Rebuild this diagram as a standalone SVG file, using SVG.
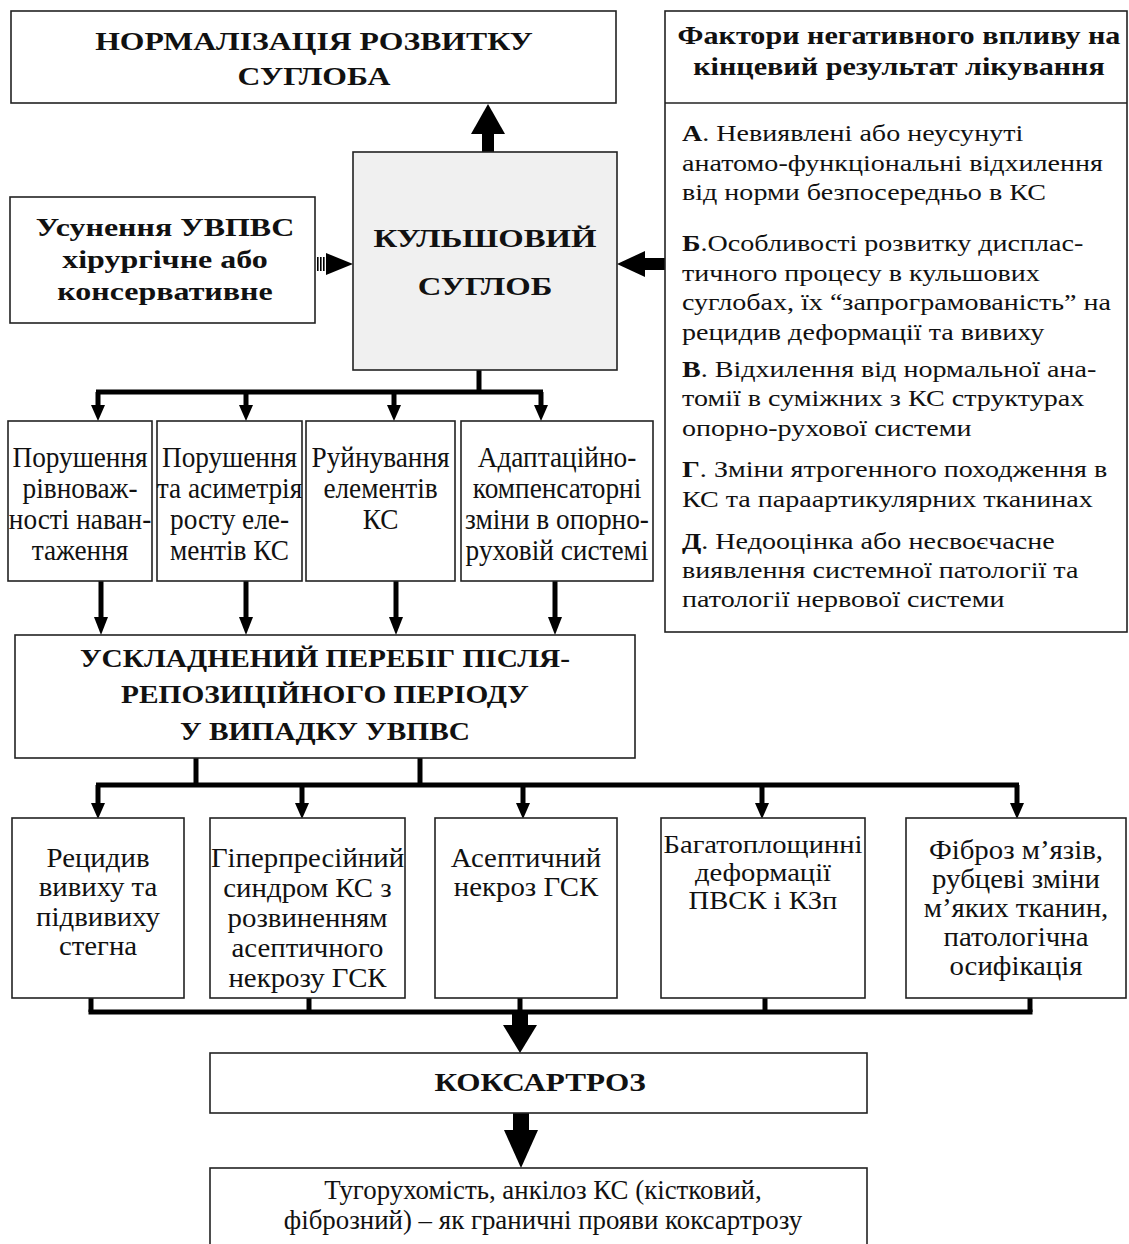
<svg xmlns="http://www.w3.org/2000/svg" width="1129" height="1244" viewBox="0 0 1129 1244">
<style>
.box{fill:#fff;stroke:#222;stroke-width:1.6}
.gray{fill:#f0f0f0}
.b{font-family:"Liberation Serif","Times New Roman",serif;font-weight:bold;font-size:26px;fill:#111}
.r{font-family:"Liberation Serif","Times New Roman",serif;font-size:24px;fill:#111}
.mid{font-size:30px}
.bot{font-size:28px}
.bot26{font-size:26px}
.fin{font-size:28px}
.c{text-anchor:middle}
.ln{stroke:#000;stroke-width:5;fill:none}
.ah{fill:#000}
.bl{font-weight:bold}
</style>
<rect width="1129" height="1244" fill="#fff"/>
<g id="connectors">
  <rect class="ah" x="482" y="131" width="12" height="22"/>
  <polygon class="ah" points="471,134 505,134 488,104"/>
  <rect class="ah" x="317" y="257" width="1.6" height="14"/>
  <rect class="ah" x="320" y="257" width="1.6" height="14"/>
  <rect class="ah" x="323" y="257" width="1.6" height="14"/>
  <polygon class="ah" points="326,253 353,264 326,275"/>
  <rect class="ah" x="643" y="258" width="22" height="12"/>
  <polygon class="ah" points="617,264 645,251 645,277"/>
  <line class="ln" x1="479" y1="370" x2="479" y2="392"/>
  <line class="ln" x1="96" y1="392" x2="543" y2="392"/>
  <line class="ln" x1="98" y1="392" x2="98" y2="408"/>
  <line class="ln" x1="246" y1="392" x2="246" y2="408"/>
  <line class="ln" x1="394" y1="392" x2="394" y2="408"/>
  <line class="ln" x1="541" y1="392" x2="541" y2="408"/>
  <polygon class="ah" points="91,405 105,405 98,421"/>
  <polygon class="ah" points="239,405 253,405 246,421"/>
  <polygon class="ah" points="387,405 401,405 394,421"/>
  <polygon class="ah" points="534,405 548,405 541,421"/>
  <line class="ln" x1="101" y1="581" x2="101" y2="620"/>
  <line class="ln" x1="246" y1="581" x2="246" y2="620"/>
  <line class="ln" x1="396" y1="581" x2="396" y2="620"/>
  <line class="ln" x1="555" y1="581" x2="555" y2="620"/>
  <polygon class="ah" points="94,617 108,617 101,635"/>
  <polygon class="ah" points="239,617 253,617 246,635"/>
  <polygon class="ah" points="389,617 403,617 396,635"/>
  <polygon class="ah" points="548,617 562,617 555,635"/>
  <line class="ln" x1="196" y1="758" x2="196" y2="785"/>
  <line class="ln" x1="420" y1="758" x2="420" y2="785"/>
  <line class="ln" x1="96" y1="785" x2="1019" y2="785"/>
  <line class="ln" x1="98" y1="785" x2="98" y2="806"/>
  <line class="ln" x1="302" y1="785" x2="302" y2="806"/>
  <line class="ln" x1="523" y1="785" x2="523" y2="806"/>
  <line class="ln" x1="762" y1="785" x2="762" y2="806"/>
  <line class="ln" x1="1017" y1="785" x2="1017" y2="806"/>
  <polygon class="ah" points="91,803 105,803 98,819"/>
  <polygon class="ah" points="295,803 309,803 302,819"/>
  <polygon class="ah" points="516,803 530,803 523,819"/>
  <polygon class="ah" points="755,803 769,803 762,819"/>
  <polygon class="ah" points="1010,803 1024,803 1017,819"/>
  <line class="ln" x1="91" y1="998" x2="91" y2="1012"/>
  <line class="ln" x1="309" y1="998" x2="309" y2="1012"/>
  <line class="ln" x1="520" y1="998" x2="520" y2="1012"/>
  <line class="ln" x1="765" y1="998" x2="765" y2="1012"/>
  <line class="ln" x1="1030" y1="998" x2="1030" y2="1012"/>
  <line class="ln" x1="88.5" y1="1012" x2="1032.5" y2="1012"/>
  <rect class="ah" x="512" y="1012" width="16" height="15"/>
  <polygon class="ah" points="503,1025 537,1025 520,1053"/>
  <rect class="ah" x="513" y="1113" width="16" height="19"/>
  <polygon class="ah" points="504,1130 538,1130 521,1168"/>
</g>
<g id="norm">
  <rect class="box" x="11" y="11" width="605" height="92"/>
  <text class="b c" transform="translate(314,0) scale(1.22,1)"><tspan x="0" y="50">НОРМАЛІЗАЦІЯ РОЗВИТКУ</tspan><tspan x="0" y="85">СУГЛОБА</tspan></text>
</g>
<g id="kulsh">
  <rect class="box gray" x="353" y="152" width="264" height="218"/>
  <text class="b c" transform="translate(485,0) scale(1.26,1)"><tspan x="0" y="247">КУЛЬШОВИЙ</tspan><tspan x="0" y="295">СУГЛОБ</tspan></text>
</g>
<g id="usun">
  <rect class="box" x="10" y="197" width="305" height="126"/>
  <text class="b c" transform="translate(165,0) scale(1.23,1)"><tspan x="0" y="236">Усунення УВПВС</tspan><tspan x="0" y="268">хірургічне або</tspan><tspan x="0" y="300">консервативне</tspan></text>
</g>
<g id="factors">
  <rect class="box" x="665" y="11" width="462" height="621"/>
  <line x1="665" y1="103" x2="1127" y2="103" stroke="#222" stroke-width="1.6"/>
  <text class="b c" transform="translate(899,0) scale(1.16,1)"><tspan x="0" y="44">Фактори негативного впливу на</tspan><tspan x="0" y="75">кінцевий результат лікування</tspan></text>
  <text class="r" transform="translate(682,0) scale(1.17,1)">
    <tspan x="0" y="141"><tspan class="bl">А</tspan>. Невиявлені або неусунуті</tspan>
    <tspan x="0" y="171">анатомо-функціональні відхилення</tspan>
    <tspan x="0" y="200">від норми безпосередньо в КС</tspan>
    <tspan x="0" y="251"><tspan class="bl">Б</tspan>.Особливості розвитку дисплас-</tspan>
    <tspan x="0" y="281">тичного процесу в кульшових</tspan>
    <tspan x="0" y="310">суглобах, їх “запрограмованість” на</tspan>
    <tspan x="0" y="340">рецидив деформації та вивиху</tspan>
    <tspan x="0" y="377"><tspan class="bl">В</tspan>. Відхилення від нормальної ана-</tspan>
    <tspan x="0" y="406">томії в суміжних з КС структурах</tspan>
    <tspan x="0" y="436">опорно-рухової системи</tspan>
    <tspan x="0" y="477"><tspan class="bl">Г</tspan>. Зміни ятрогенного походження в</tspan>
    <tspan x="0" y="507">КС та параартикулярних тканинах</tspan>
    <tspan x="0" y="549"><tspan class="bl">Д</tspan>. Недооцінка або несвоєчасне</tspan>
    <tspan x="0" y="578">виявлення системної патології та</tspan>
    <tspan x="0" y="607">патології нервової системи</tspan>
  </text>
</g>
<g id="m1">
  <rect class="box" x="8" y="421" width="144" height="160"/>
  <text class="r mid c" transform="translate(80,0) scale(0.91,1)"><tspan x="0" y="467">Порушення</tspan><tspan x="0" y="498">рівноваж-</tspan><tspan x="0" y="529">ності наван-</tspan><tspan x="0" y="560">таження</tspan></text>
</g>
<g id="m2">
  <rect class="box" x="157" y="421" width="145" height="160"/>
  <text class="r mid c" transform="translate(229.5,0) scale(0.91,1)"><tspan x="0" y="467">Порушення</tspan><tspan x="0" y="498">та асиметрія</tspan><tspan x="0" y="529">росту еле-</tspan><tspan x="0" y="560">ментів КС</tspan></text>
</g>
<g id="m3">
  <rect class="box" x="306" y="421" width="149" height="160"/>
  <text class="r mid c" transform="translate(380.5,0) scale(0.91,1)"><tspan x="0" y="467">Руйнування</tspan><tspan x="0" y="498">елементів</tspan><tspan x="0" y="529">КС</tspan></text>
</g>
<g id="m4">
  <rect class="box" x="461" y="421" width="192" height="160"/>
  <text class="r mid c" transform="translate(557,0) scale(0.91,1)"><tspan x="0" y="467">Адаптаційно-</tspan><tspan x="0" y="498">компенсаторні</tspan><tspan x="0" y="529">зміни в опорно-</tspan><tspan x="0" y="560">руховій системі</tspan></text>
</g>
<g id="complicated">
  <rect class="box" x="15" y="635" width="620" height="123"/>
  <text class="b c" transform="translate(325,0) scale(1.13,1)"><tspan x="0" y="667">УСКЛАДНЕНИЙ ПЕРЕБІГ ПІСЛЯ-</tspan><tspan x="0" y="703">РЕПОЗИЦІЙНОГО ПЕРІОДУ</tspan><tspan x="0" y="740">У ВИПАДКУ УВПВС</tspan></text>
</g>
<g id="b1">
  <rect class="box" x="12" y="818" width="172" height="180"/>
  <text class="r bot c" transform="translate(98,0) scale(1.03,1)"><tspan x="0" y="867">Рецидив</tspan><tspan x="0" y="896">вивиху та</tspan><tspan x="0" y="926">підвивиху</tspan><tspan x="0" y="955">стегна</tspan></text>
</g>
<g id="b2">
  <rect class="box" x="210" y="818" width="195" height="180"/>
  <text class="r bot c" transform="translate(307.5,0) scale(1.03,1)"><tspan x="0" y="867">Гіперпресійний</tspan><tspan x="0" y="897">синдром КС з</tspan><tspan x="0" y="927">розвиненням</tspan><tspan x="0" y="957">асептичного</tspan><tspan x="0" y="987">некрозу ГСК</tspan></text>
</g>
<g id="b3">
  <rect class="box" x="435" y="818" width="182" height="180"/>
  <text class="r bot c" transform="translate(526,0) scale(1.03,1)"><tspan x="0" y="867">Асептичний</tspan><tspan x="0" y="896">некроз ГСК</tspan></text>
</g>
<g id="b4">
  <rect class="box" x="661" y="818" width="204" height="180"/>
  <text class="r bot26 c" transform="translate(763,0) scale(1.1,1)"><tspan x="0" y="853">Багатоплощинні</tspan><tspan x="0" y="881">деформації</tspan><tspan x="0" y="909">ПВСК і КЗп</tspan></text>
</g>
<g id="b5">
  <rect class="box" x="906" y="818" width="220" height="180"/>
  <text class="r bot c" transform="translate(1016,0) scale(1.03,1)"><tspan x="0" y="859">Фіброз м’язів,</tspan><tspan x="0" y="888">рубцеві зміни</tspan><tspan x="0" y="917">м’яких тканин,</tspan><tspan x="0" y="946">патологічна</tspan><tspan x="0" y="975">осифікація</tspan></text>
</g>
<g id="coxarthrosis">
  <rect class="box" x="210" y="1053" width="657" height="60"/>
  <text class="b c" transform="translate(540,0) scale(1.2,1)"><tspan x="0" y="1091">КОКСАРТРОЗ</tspan></text>
</g>
<g id="final">
  <rect class="box" x="210" y="1168" width="657" height="90"/>
  <text class="r fin c" transform="translate(543,0) scale(0.96,1)"><tspan x="0" y="1199">Тугорухомість, анкілоз КС (кістковий,</tspan><tspan x="0" y="1229">фіброзний) – як граничні прояви коксартрозу</tspan></text>
</g>
</svg>
